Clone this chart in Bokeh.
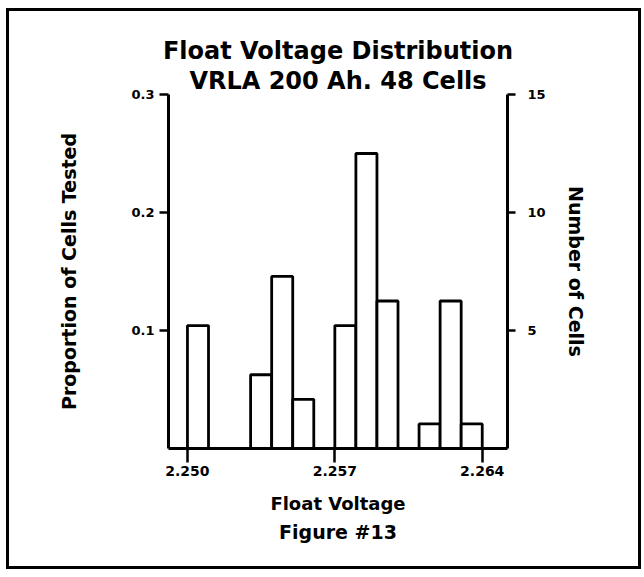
from bokeh.plotting import figure
from bokeh.models import (ColumnDataSource, LinearAxis, Range1d, FixedTicker,
                          Title, NumeralTickFormatter)
from bokeh.embed import file_html
from bokeh.resources import INLINE

# ---- data ----
bin_left = [2.250, 2.253, 2.254, 2.255, 2.257, 2.258, 2.259, 2.261, 2.262, 2.263]
cell_counts = [5, 3, 7, 2, 5, 12, 6, 1, 6, 1]
total_cells = 48
bin_width = 0.001
x_ticks = [2.250, 2.257, 2.264]
prop_ticks = [0.1, 0.2, 0.3]
count_ticks = [5, 10, 15]

title_text = "Float Voltage Distribution"
subtitle_text = "VRLA 200 Ah. 48 Cells"
x_label = "Float Voltage"
fig_label = "Figure #13"
left_label = "Proportion of Cells Tested"
right_label = "Number of Cells"

src = ColumnDataSource(dict(
    left=bin_left,
    right=[v + bin_width for v in bin_left],
    top=[c / total_cells for c in cell_counts],
    bottom=[0] * len(bin_left),
))

FONT = "DejaVu Sans"

p = figure(width=635, height=561, title=None,
           x_range=Range1d(2.2491, 2.2652), y_range=Range1d(0, 0.3),
           output_backend="svg", toolbar_location=None,
           min_border_left=159, min_border_right=137,
           min_border_top=83, min_border_bottom=124)
p.extra_y_ranges = {"count": Range1d(0, 15)}
p.styles = {"border": "3px solid black", "margin-left": "6px", "margin-top": "8px"}

p.grid.visible = False
p.outline_line_color = None
p.background_fill_color = "white"
p.border_fill_color = "white"

p.quad(left="left", right="right", top="top", bottom="bottom", source=src,
       fill_color="white", line_color="black", line_width=2.8)

sub = Title(text=subtitle_text, align="center", text_font=FONT, text_color="black",
            text_font_size="24px", text_font_style="bold", standoff=0)
main = Title(text=title_text, align="center", text_font=FONT, text_color="black",
             text_font_size="24px", text_font_style="bold", standoff=0)
p.add_layout(sub, "above")
p.add_layout(main, "above")

figt = Title(text=fig_label, align="center", text_font=FONT, text_color="black",
             text_font_size="19px", text_font_style="bold", standoff=4)
p.add_layout(figt, "below")

def style_axis(ax, tick_out):
    ax.axis_line_width = 3
    ax.axis_line_color = "black"
    ax.major_tick_line_width = 2.5
    ax.major_tick_in = 0
    ax.major_tick_out = tick_out
    ax.minor_tick_in = 0
    ax.minor_tick_out = 0
    ax.major_label_text_font = FONT
    ax.major_label_text_font_style = "bold"
    ax.major_label_text_color = "black"
    ax.axis_label_text_font = FONT
    ax.axis_label_text_font_style = "bold"
    ax.axis_label_text_color = "black"

xa = p.xaxis[0]
style_axis(xa, 14)
xa.ticker = FixedTicker(ticks=x_ticks)
xa.formatter = NumeralTickFormatter(format="0.000")
xa.major_label_text_font_size = "14px"
xa.major_label_standoff = 3
xa.axis_label = x_label
xa.axis_label_text_font_size = "18px"
xa.axis_label_standoff = 14

ya = p.yaxis[0]
style_axis(ya, 9)
ya.ticker = FixedTicker(ticks=prop_ticks)
ya.formatter = NumeralTickFormatter(format="0.0")
ya.major_label_text_font_size = "13px"
ya.major_label_standoff = 5
ya.axis_label = left_label
ya.axis_label_text_font_size = "19px"
ya.axis_label_standoff = 48

ra = LinearAxis(y_range_name="count")
style_axis(ra, 8)
ra.ticker = FixedTicker(ticks=count_ticks)
ra.formatter = NumeralTickFormatter(format="0")
ra.major_label_text_font_size = "13px"
ra.major_label_standoff = 12
ra.axis_label = right_label
ra.axis_label_text_font_size = "19px"
ra.axis_label_standoff = 16
p.add_layout(ra, "right")

open("out.html", "w").write(file_html(p, INLINE))
